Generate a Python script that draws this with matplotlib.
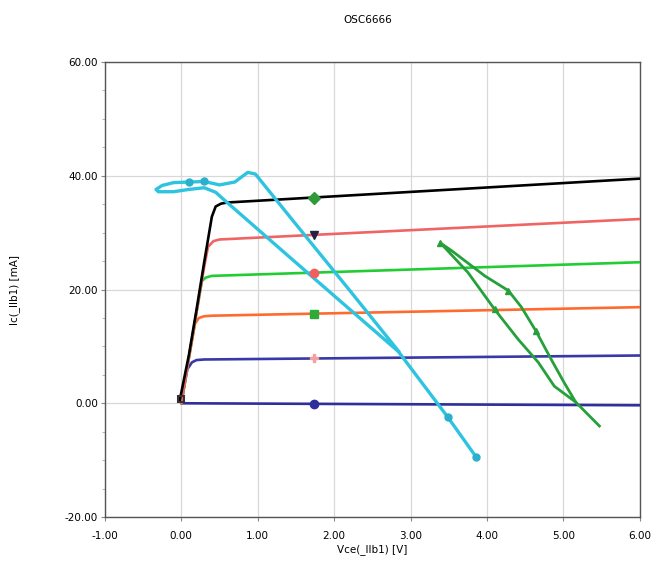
import numpy as np
import matplotlib
matplotlib.use('Agg')
import matplotlib.pyplot as plt
from matplotlib.ticker import MultipleLocator, FormatStrFormatter

# Ho dac tuyen Ic-Vce (doc tu hinh)
blue0_v = [0.0, 6.0]
blue0_i = [0.0, -0.35]
blue1_v = [0.0, 0.08, 0.14, 0.2, 0.3, 6.0]
blue1_i = [0.0, 6.0, 7.2, 7.6, 7.7, 8.4]
orange_v = [0.0, 0.1, 0.18, 0.23, 0.3, 0.4, 6.0]
orange_i = [0.0, 8.0, 14.0, 15.0, 15.3, 15.4, 16.9]
green_v = [0.0, 0.1, 0.2, 0.27, 0.32, 0.4, 6.0]
green_i = [0.0, 8.0, 16.0, 21.5, 22.1, 22.4, 24.8]
red_v = [0.0, 0.1, 0.2, 0.3, 0.35, 0.42, 0.5, 6.0]
red_i = [0.0, 8.0, 16.0, 24.0, 27.5, 28.5, 28.8, 32.4]
black_v = [-0.02, 0.1, 0.2, 0.3, 0.4, 0.45, 0.52, 0.6, 6.0]
black_i = [0.5, 8.5, 16.5, 24.8, 32.8, 34.6, 35.1, 35.3, 39.5]

# Quy dao tai (vong tre)
cyan_v = [3.86, 3.49, 2.84, 2.0, 1.4, 0.89, 0.6, 0.45, 0.3, 0.1, -0.1, -0.3, -0.33,
          -0.25, -0.1, 0.1, 0.3, 0.5, 0.7, 0.87, 0.97, 1.45, 2.2, 2.84]
cyan_i = [-9.5, -2.5, 9.1, 18.9, 25.9, 31.9, 35.3, 37.1, 37.9, 37.6, 37.2, 37.2, 37.6,
          38.3, 38.8, 38.9, 39.0, 38.4, 38.9, 40.6, 40.3, 32.3, 19.9, 9.2]
cyan_mark = [0, 1, 15, 16]

gloop_v = [5.47, 5.16, 4.88, 4.67, 4.41, 4.1, 3.75, 3.39, 3.54, 3.97, 4.28, 4.45,
           4.64, 4.84, 5.01, 5.16]
gloop_i = [-4.0, 0.2, 3.0, 7.2, 11.2, 16.5, 23.0, 28.2, 26.8, 22.4, 19.8, 16.9,
           12.7, 7.7, 3.6, 0.2]
gloop_mark = [5, 7, 10, 12]

marker_vce = 1.73

curves = [
    (blue0_v, blue0_i, '#2e2e9c', '#2e2e9c', 'o'),
    (blue1_v, blue1_i, '#3838a8', '#f4a0a0', 'P'),
    (orange_v, orange_i, '#ff6a2e', '#2eaa3a', 's'),
    (green_v, green_i, '#22cc33', '#f06060', 'o'),
    (red_v, red_i, '#f06464', '#222244', 'v'),
    (black_v, black_i, '#000000', '#2e9a3a', 'D'),
]

fig = plt.figure(figsize=(6.51, 5.61), dpi=100)
ax = fig.add_axes([0.161, 0.0784, 0.822, 0.811])

for v, i, c, mc, mk in curves:
    ax.plot(v, i, color=c, lw=1.9, zorder=3, solid_capstyle='round')
    ax.plot([marker_vce], [np.interp(marker_vce, v, i)], marker=mk, color=mc,
            ms=6, ls='none', zorder=5)

ax.plot([0.0], [0.8], marker='s', color='#333333', ms=5, mfc='none', mew=1.5, zorder=6)

ax.plot(cyan_v, cyan_i, color='#2ec4e0', lw=2.4, zorder=4, solid_joinstyle='round')
ax.plot([cyan_v[k] for k in cyan_mark], [cyan_i[k] for k in cyan_mark], marker='o',
        color='#2ab0cc', ms=5, ls='none', zorder=5)

ax.plot(gloop_v, gloop_i, color='#25a03a', lw=2.0, zorder=4, solid_joinstyle='round')
ax.plot([gloop_v[k] for k in gloop_mark], [gloop_i[k] for k in gloop_mark], marker='^',
        color='#25a03a', ms=4, ls='none', zorder=5)

ax.set_xlim(-1, 6)
ax.set_ylim(-20, 60)
ax.xaxis.set_major_locator(MultipleLocator(1))
ax.yaxis.set_major_locator(MultipleLocator(20))
ax.yaxis.set_minor_locator(MultipleLocator(5))
ax.xaxis.set_major_formatter(FormatStrFormatter('%.2f'))
ax.yaxis.set_major_formatter(FormatStrFormatter('%.2f'))
ax.tick_params(axis='both', which='major', labelsize=7.5, length=3, pad=2, color='#888888')
ax.tick_params(axis='x', which='major', pad=7)
ax.tick_params(axis='y', which='minor', length=2, color='#aaaaaa')
ax.grid(True, which='major', color='#d8d8d8', lw=0.9)
for s in ax.spines.values():
    s.set_color('#555555')
    s.set_linewidth(1.0)

ax.set_xlabel('Vce(_llb1) [V]', fontsize=7.5, labelpad=2)
ax.set_ylabel('Ic(_llb1) [mA]', fontsize=7.5, labelpad=32)
fig.text(0.565, 0.965, 'OSC6666', ha='center', va='center', fontsize=7.5)

fig.savefig('out.png', dpi=100)
